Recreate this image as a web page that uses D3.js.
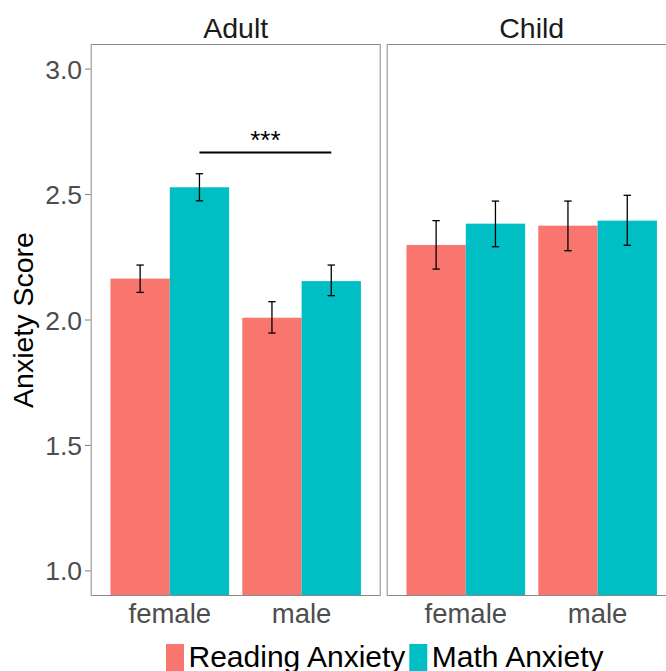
<!DOCTYPE html>
<html><head><meta charset="utf-8">
<script src="https://cdn.jsdelivr.net/npm/d3@7"></script>
<style>
html,body{margin:0;padding:0;background:#fff;overflow:hidden}
text{font-family:"Liberation Sans",Arial,Helvetica,sans-serif}
</style></head>
<body>
<svg id="chart" width="666" height="671"></svg>
<script>
// ---- data ----
const panels = ["Adult", "Child"];
const categories = ["female", "male"];
const seriesNames = ["Reading Anxiety", "Math Anxiety"];
const seriesColors = ["#F8766D", "#00BFC4"];
const yTicks = [1.0, 1.5, 2.0, 2.5, 3.0];

const adultReadingMean = [2.165, 2.009];
const adultReadingLow  = [2.110, 1.948];
const adultReadingHigh = [2.219, 2.073];
const adultMathMean = [2.529, 2.155];
const adultMathLow  = [2.475, 2.097];
const adultMathHigh = [2.583, 2.219];

const childReadingMean = [2.299, 2.376];
const childReadingLow  = [2.203, 2.276];
const childReadingHigh = [2.396, 2.474];
const childMathMean = [2.384, 2.396];
const childMathLow  = [2.292, 2.298];
const childMathHigh = [2.474, 2.497];

const sigLevel = 2.668;
const sigLabel = "***";

// ---- build ----
const panelData = {
  Adult: [
    {mean: adultReadingMean, lo: adultReadingLow, hi: adultReadingHigh},
    {mean: adultMathMean, lo: adultMathLow, hi: adultMathHigh}
  ],
  Child: [
    {mean: childReadingMean, lo: childReadingLow, hi: childReadingHigh},
    {mean: childMathMean, lo: childMathLow, hi: childMathHigh}
  ]
};

const svg = d3.select("#chart");
const pTop = 44, pBottom = 596, pw = 290;
const panelX = {Adult: 90.7, Child: 386.7};
const y = d3.scaleLinear().domain([0.9, 3.1]).range([pBottom, pTop]);
const x = d3.scalePoint().domain(categories).range([0, pw]).padding(0.6);
const step = x.step();
const dodge = d3.scaleBand().domain(seriesNames).range([-0.45 * step, 0.45 * step]);
const capHalf = 0.028 * step;

panels.forEach(p => {
  const g = svg.append("g").attr("transform", `translate(${panelX[p]},0)`);
  svg.append("text").attr("x", panelX[p] + pw / 2).attr("y", 38.3)
    .attr("text-anchor", "middle").attr("font-size", 28.5).attr("fill", "#1a1a1a").text(p);
  seriesNames.forEach((s, si) => {
    const d = panelData[p][si];
    categories.forEach((c, ci) => {
      g.append("rect")
        .attr("x", x(c) + dodge(s)).attr("width", dodge.bandwidth())
        .attr("y", y(d.mean[ci])).attr("height", pBottom - y(d.mean[ci]))
        .attr("fill", seriesColors[si]);
    });
  });
  seriesNames.forEach((s, si) => {
    const d = panelData[p][si];
    categories.forEach((c, ci) => {
      const cx = x(c) + dodge(s) + dodge.bandwidth() / 2;
      const eg = g.append("g").attr("stroke", "#000").attr("stroke-width", 1.3);
      eg.append("line").attr("x1", cx).attr("x2", cx).attr("y1", y(d.lo[ci])).attr("y2", y(d.hi[ci]));
      eg.append("line").attr("x1", cx - capHalf).attr("x2", cx + capHalf).attr("y1", y(d.lo[ci])).attr("y2", y(d.lo[ci]));
      eg.append("line").attr("x1", cx - capHalf).attr("x2", cx + capHalf).attr("y1", y(d.hi[ci])).attr("y2", y(d.hi[ci]));
    });
  });
  g.append("rect").attr("x", 0.5).attr("y", pTop + 0.5).attr("width", pw - 1).attr("height", pBottom - pTop - 1)
    .attr("fill", "none").attr("stroke", "#8a8a8a").attr("stroke-width", 1);
  categories.forEach(c => {
    g.append("text").attr("x", x(c)).attr("y", 623).attr("text-anchor", "middle")
      .attr("font-size", 27.5).attr("fill", "#4d4d4d").text(c);
  });
  if (p === "Adult") {
    const x1 = x(categories[0]) + dodge(seriesNames[1]) + dodge.bandwidth() / 2;
    const x2 = x(categories[1]) + dodge(seriesNames[1]) + dodge.bandwidth() / 2;
    g.append("line").attr("x1", x1).attr("x2", x2).attr("y1", y(sigLevel)).attr("y2", y(sigLevel))
      .attr("stroke", "#000").attr("stroke-width", 2);
    g.append("text").attr("x", (x1 + x2) / 2).attr("y", y(sigLevel) - 3).attr("text-anchor", "middle")
      .attr("font-size", 26).attr("fill", "#000").text(sigLabel);
  }
});

const ya = svg.append("g");
yTicks.forEach(t => {
  ya.append("line").attr("x1", 85).attr("x2", 90.7).attr("y1", y(t)).attr("y2", y(t))
    .attr("stroke", "#7f7f7f").attr("stroke-width", 1);
  ya.append("text").attr("x", 82).attr("y", y(t)).attr("dy", "0.36em").attr("text-anchor", "end")
    .attr("font-size", 26.5).attr("fill", "#4d4d4d").text(d3.format(".1f")(t));
});
svg.append("text").attr("transform", `translate(33,${(pTop + pBottom) / 2}) rotate(-90)`)
  .attr("text-anchor", "middle").attr("font-size", 28.5).attr("fill", "#000").text("Anxiety Score");

const legX = [166, 409.3];
seriesNames.forEach((s, i) => {
  svg.append("rect").attr("x", legX[i]).attr("y", 644).attr("width", 18).attr("height", 30)
    .attr("fill", seriesColors[i]);
  svg.append("text").attr("x", legX[i] + 22.5).attr("y", 666.5).attr("font-size", 30)
    .attr("fill", "#000").text(s);
});
</script>
</body></html>
